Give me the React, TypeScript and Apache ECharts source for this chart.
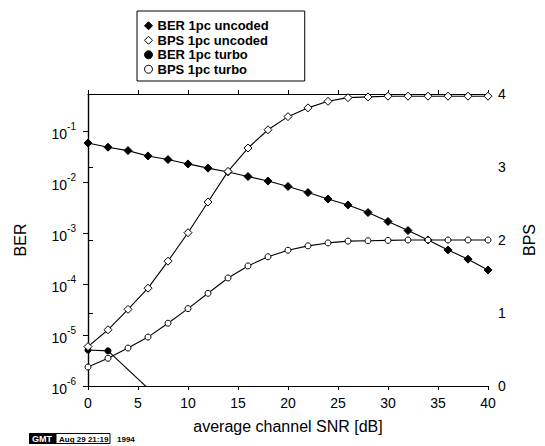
import React, { useEffect, useRef } from "react";
import * as echarts from "echarts";

const snr = [0, 2, 4, 6, 8, 10, 12, 14, 16, 18, 20, 22, 24, 26, 28, 30, 32, 34, 36, 38, 40];
const berUncoded = [0.059, 0.049, 0.042, 0.033, 0.028, 0.023, 0.019, 0.016, 0.013, 0.0106, 0.0083, 0.0063, 0.0047, 0.0036, 0.00255, 0.0017, 0.00113, 0.00074, 0.00047, 0.00031, 0.00019];
const bpsUncoded = [0.54, 0.77, 1.05, 1.34, 1.71, 2.1, 2.52, 2.94, 3.26, 3.51, 3.69, 3.81, 3.9, 3.95, 3.96, 3.97, 3.97, 3.97, 3.97, 3.97, 3.97];
const berTurboSnr = [0, 2, 6];
const berTurbo = [5.1e-6, 4.9e-6, 9e-7];
const bpsTurbo = [0.26, 0.38, 0.52, 0.67, 0.86, 1.06, 1.27, 1.48, 1.645, 1.77, 1.86, 1.92, 1.96, 1.985, 1.99, 1.995, 2.0, 2.0, 2.0, 2.0, 2.0];
const legendNames = ["BER 1pc uncoded", "BPS 1pc uncoded", "BER 1pc turbo", "BPS 1pc turbo"];

const FONT = "'Liberation Sans', Arial, sans-serif";

export default function App() {
  const ref = useRef<HTMLDivElement>(null);
  useEffect(() => {
    if (!ref.current) return;
    const chart = echarts.init(ref.current, undefined, { renderer: "svg" });
    const pair = (xs: number[], ys: number[]) => xs.map((x, i) => [x, ys[i]]);
    const filled = { color: "#000", borderColor: "#000", borderWidth: 1 };
    const open = { color: "#fff", borderColor: "#000", borderWidth: 1 };
    const line = { color: "#000", width: 1.1 };
    chart.setOption({
      animation: false,
      backgroundColor: "#fff",
      textStyle: { fontFamily: FONT, color: "#000" },
      grid: { left: 88, right: 48, top: 94, bottom: 60, containLabel: false },
      legend: {
        orient: "vertical",
        left: 137,
        top: 11,
        padding: [8, 36, 5, 7],
        borderColor: "#000",
        borderWidth: 1,
        itemWidth: 8,
        itemHeight: 8,
        itemGap: 1,
        itemTextGap: 3,
        textStyle: { fontFamily: FONT, fontSize: 13, fontWeight: "bold", color: "#000", lineHeight: 13.5 },
        data: [
          { name: legendNames[0], icon: "diamond", itemStyle: filled },
          { name: legendNames[1], icon: "diamond", itemStyle: open },
          { name: legendNames[2], icon: "circle", itemStyle: filled },
          { name: legendNames[3], icon: "circle", itemStyle: open },
        ],
      },
      xAxis: [
        {
          type: "value",
          min: 0,
          max: 40,
          interval: 5,
          position: "bottom",
          name: "average channel SNR [dB]",
          nameLocation: "middle",
          nameGap: 32,
          nameTextStyle: { fontFamily: FONT, fontSize: 16, color: "#000" },
          axisLine: { show: true, lineStyle: { color: "#000", width: 1.2 } },
          axisTick: { show: true, inside: false, length: 4, lineStyle: { color: "#000" } },
          axisLabel: { fontFamily: FONT, fontSize: 14, color: "#000", margin: 10 },
          splitLine: { show: false },
        },
        {
          type: "value",
          min: 0,
          max: 40,
          interval: 5,
          position: "top",
          axisLine: { show: true, lineStyle: { color: "#000", width: 1.2 } },
          axisTick: { show: true, inside: false, length: 4, lineStyle: { color: "#000" } },
          axisLabel: { show: false },
          splitLine: { show: false },
        },
      ],
      yAxis: [
        {
          type: "log",
          logBase: 10,
          min: 1e-6,
          max: 0.543,
          interval: 1,
          position: "left",
          name: "BER",
          nameLocation: "middle",
          nameRotate: 90,
          nameGap: 60,
          nameTextStyle: { fontFamily: FONT, fontSize: 16, color: "#000" },
          axisLine: { show: true, lineStyle: { color: "#000", width: 1.2 } },
          axisTick: { show: true, inside: false, length: 5, lineStyle: { color: "#000" } },
          axisLabel: {
            margin: 12,
            showMaxLabel: false,
            formatter: (v: number) => {
              const e = Math.log10(v);
              const r = Math.round(e);
              if (Math.abs(e - r) > 1e-6) return "";
              return `{b|10}{s|${r}}`;
            },
            rich: {
              b: { fontFamily: FONT, fontSize: 14, color: "#000", verticalAlign: "bottom", lineHeight: 20 },
              s: { fontFamily: FONT, fontSize: 10, color: "#000", verticalAlign: "top", lineHeight: 12 },
            },
          },
          splitLine: { show: false },
        },
        {
          type: "value",
          min: 0,
          max: 4,
          interval: 1,
          position: "right",
          name: "BPS",
          nameLocation: "middle",
          nameRotate: 90,
          nameGap: 33,
          nameTextStyle: { fontFamily: FONT, fontSize: 16, color: "#000" },
          axisLine: { show: true, lineStyle: { color: "#000", width: 1.2 } },
          axisTick: { show: true, inside: false, length: 5, lineStyle: { color: "#000" } },
          axisLabel: { fontFamily: FONT, fontSize: 14, color: "#000", margin: 10 },
          splitLine: { show: false },
        },
      ],
      graphic: [
        {
          type: "group",
          left: 29,
          top: 433,
          children: [
            { type: "rect", shape: { x: 0, y: 0, width: 27, height: 11 }, style: { fill: "#000" } },
            { type: "text", x: 3, y: 1.5, style: { text: "GMT", fill: "#fff", font: "bold 9px " + FONT } },
            { type: "rect", shape: { x: 27, y: 0.5, width: 54, height: 10 }, style: { fill: "#fff", stroke: "#000", lineWidth: 1 } },
            { type: "text", x: 30, y: 2, style: { text: "Aug 29 21:19", fill: "#000", font: "bold 8px " + FONT } },
            { type: "text", x: 88, y: 2, style: { text: "1994", fill: "#000", font: "bold 8px " + FONT } },
          ],
        },
      ],
      series: [
        {
          name: legendNames[0],
          type: "line",
          xAxisIndex: 0,
          yAxisIndex: 0,
          data: pair(snr, berUncoded),
          symbol: "diamond",
          symbolSize: 8,
          itemStyle: filled,
          lineStyle: line,
          z: 3,
        },
        {
          name: legendNames[1],
          type: "line",
          xAxisIndex: 0,
          yAxisIndex: 1,
          data: pair(snr, bpsUncoded),
          symbol: "diamond",
          symbolSize: 8,
          itemStyle: open,
          lineStyle: line,
          z: 4,
        },
        {
          name: legendNames[2],
          type: "line",
          xAxisIndex: 0,
          yAxisIndex: 0,
          data: pair(berTurboSnr, berTurbo),
          symbol: "circle",
          symbolSize: 6,
          itemStyle: filled,
          lineStyle: line,
          clip: true,
          z: 3,
        },
        {
          name: legendNames[3],
          type: "line",
          xAxisIndex: 0,
          yAxisIndex: 1,
          data: pair(snr, bpsTurbo),
          symbol: "circle",
          symbolSize: 6,
          itemStyle: open,
          lineStyle: line,
          z: 4,
        },
      ],
    });
    return () => chart.dispose();
  }, []);
  return (
    <div
      ref={ref}
      style={{ position: "fixed", left: 0, top: 0, width: 545, height: 446, background: "#fff" }}
    />
  );
}
